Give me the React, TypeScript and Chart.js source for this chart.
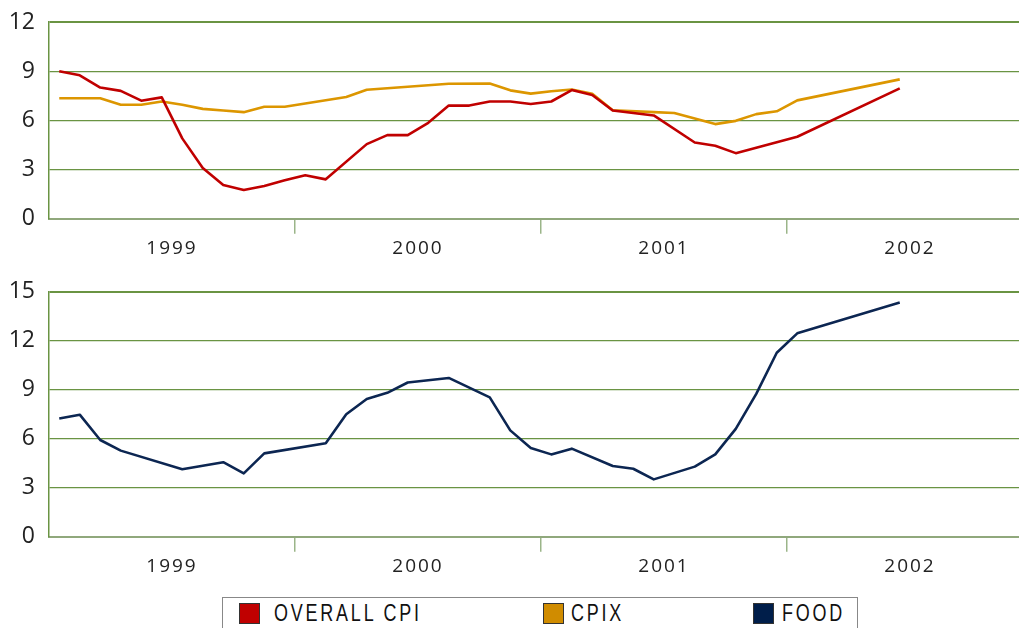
import React, { useEffect, useRef } from "react";
import { Chart, registerables } from "chart.js";

Chart.register(...registerables);

// ---- data (month index: 0 = Jan 1999) ----
const yearLabels = ["1999", "2000", "2001", "2002"];

const cpiMonths = [0, 1, 2, 3, 4, 5, 6, 7, 8, 9, 10, 11, 12, 13, 15, 16, 17, 18, 19, 20, 21, 22, 23, 24, 25, 26, 27, 29, 31, 32, 33, 36, 41];
const cpiValues = [9.0, 8.75, 8.0, 7.8, 7.2, 7.4, 4.9, 3.1, 2.05, 1.75, 2.0, 2.35, 2.65, 2.4, 4.55, 5.1, 5.1, 5.85, 6.9, 6.9, 7.15, 7.15, 7.0, 7.15, 7.85, 7.55, 6.6, 6.3, 4.65, 4.45, 4.0, 5.0, 7.95];

const cpixMonths = [0, 2, 3, 4, 5, 6, 7, 8, 9, 10, 11, 14, 15, 17, 19, 21, 22, 23, 24, 25, 26, 27, 29, 30, 32, 33, 34, 35, 36, 41];
const cpixValues = [7.35, 7.35, 6.95, 6.95, 7.15, 6.95, 6.7, 6.6, 6.5, 6.83, 6.83, 7.42, 7.87, 8.05, 8.23, 8.25, 7.83, 7.63, 7.78, 7.88, 7.62, 6.62, 6.5, 6.45, 5.77, 5.97, 6.38, 6.55, 7.22, 8.5];

const foodMonths = [0, 1, 2, 3, 6, 8, 9, 10, 13, 14, 15, 16, 17, 19, 21, 22, 23, 24, 25, 27, 28, 29, 31, 32, 33, 34, 35, 36, 41];
const foodValues = [7.24, 7.47, 5.92, 5.27, 4.13, 4.56, 3.88, 5.1, 5.72, 7.5, 8.43, 8.81, 9.44, 9.72, 8.53, 6.51, 5.43, 5.04, 5.39, 4.33, 4.16, 3.51, 4.29, 5.04, 6.6, 8.74, 11.26, 12.45, 14.34];

const topTicks = [0, 3, 6, 9, 12];
const bottomTicks = [0, 3, 6, 9, 12, 15];

// ---- styles ----
const RED = "#c00000";
const ORANGE = "#dc9600";
const NAVY = "#0c2652";
const GRID = "#6a9443";
const AXIS = "#90a87c";
const TICKMARK = "#9bb589";

const W = 1019;
const LEFT = 49;
const MONTH_PX = 20.5;
const XAXIS_H = 51.3;

const pts = (months: number[], vals: number[]) => months.map((m, i) => ({ x: m + 0.5, y: vals[i] }));

function makeOptions(yMax: number, ticks: number[], padTop: number): any {
  const xTicks: number[] = [];
  yearLabels.forEach((_, k) => {
    xTicks.push(k * 12 + 6);
    if (k > 0) xTicks.push(k * 12);
  });
  xTicks.sort((a, b) => a - b);
  return {
    animation: false,
    responsive: false,
    layout: { padding: { top: padTop, left: 0, right: 0, bottom: 0 } },
    plugins: { legend: { display: false }, tooltip: { enabled: false } },
    elements: { point: { radius: 0 }, line: { tension: 0, borderWidth: 2.6, borderCapStyle: "butt", borderJoinStyle: "round" } },
    scales: {
      x: {
        type: "linear",
        min: 0,
        max: (W - LEFT) / MONTH_PX,
        afterBuildTicks: (s: any) => {
          s.ticks = xTicks.map((v) => ({ value: v }));
        },
        afterFit: (s: any) => {
          s.height = XAXIS_H;
          if (!s.__ls) {
            s.__ls = true;
            const orig = s.drawLabels.bind(s);
            s.drawLabels = (ca: any) => {
              const c = s.ctx as any;
              const prev = c.letterSpacing;
              c.letterSpacing = "2px";
              orig(ca);
              c.letterSpacing = prev || "0px";
            };
          }
        },
        ticks: {
          autoSkip: false,
          maxRotation: 0,
          padding: 3,
          color: "#222",
          font: { family: "'Open Sans', 'DejaVu Sans', sans-serif", size: 19 },
          callback: (v: number) => (v % 12 === 6 ? yearLabels[Math.floor(v / 12)] : ""),
        },
        grid: {
          drawOnChartArea: false,
          drawTicks: true,
          tickLength: 15,
          lineWidth: 1.5,
          color: (ctx: any) => (ctx.tick && ctx.tick.value % 12 === 0 ? TICKMARK : "rgba(0,0,0,0)"),
        },
        border: { display: true, color: AXIS, width: 2 },
      },
      y: {
        min: 0,
        max: yMax,
        afterBuildTicks: (s: any) => {
          s.ticks = ticks.map((v) => ({ value: v }));
        },
        afterFit: (s: any) => {
          s.width = LEFT;
        },
        ticks: {
          padding: 0,
          color: "#222",
          font: { family: "'Open Sans', 'DejaVu Sans', sans-serif", size: 23 },
        },
        grid: {
          drawTicks: true,
          tickLength: 14,
          tickColor: "rgba(0,0,0,0)",
          color: (ctx: any) => (ctx.tick && ctx.tick.value === 0 ? "rgba(0,0,0,0)" : GRID),
          lineWidth: (ctx: any) => (ctx.tick && ctx.tick.value === yMax ? 2 : 1.3),
        },
        border: { display: true, color: GRID, width: 1.5 },
      },
    },
  };
}

function LineChart(props: { top: number; height: number; padTop: number; yMax: number; ticks: number[]; datasets: any[] }) {
  const ref = useRef<HTMLCanvasElement | null>(null);
  useEffect(() => {
    if (!ref.current) return;
    const chart = new Chart(ref.current, {
      type: "line",
      data: { datasets: props.datasets },
      options: makeOptions(props.yMax, props.ticks, props.padTop),
    });
    return () => chart.destroy();
  }, []);
  return (
    <canvas
      ref={ref}
      width={W}
      height={props.height}
      style={{ position: "absolute", left: 0, top: props.top, width: W, height: props.height }}
    />
  );
}

const legendFont = "'Liberation Sans', Arial, sans-serif";

function LegendItem(props: { left: number; color: string; label: string; textLeft: number }) {
  return (
    <>
      <div
        style={{
          position: "absolute",
          left: props.left - 222,
          top: 5,
          width: 21,
          height: 21,
          background: props.color,
          border: "1px solid #333",
          boxSizing: "border-box",
        }}
      />
      <div
        style={{
          position: "absolute",
          left: props.textLeft - 222,
          top: 1,
          fontFamily: legendFont,
          fontSize: 23,
          letterSpacing: "3.6px",
          color: "#111",
          lineHeight: "28px",
          whiteSpace: "nowrap",
          transform: "scaleX(0.78)",
          transformOrigin: "0 0",
        }}
      >
        {props.label}
      </div>
    </>
  );
}

export default function App() {
  const topSets = [
    { label: "OVERALL CPI", data: pts(cpiMonths, cpiValues), borderColor: RED, backgroundColor: RED },
    { label: "CPIX", data: pts(cpixMonths, cpixValues), borderColor: ORANGE, backgroundColor: ORANGE },
  ];
  const bottomSets = [{ label: "FOOD", data: pts(foodMonths, foodValues), borderColor: NAVY, backgroundColor: NAVY }];
  return (
    <div style={{ position: "fixed", left: 0, top: 0, width: W, height: 628, overflow: "hidden", background: "#fff" }}>
      <LineChart top={0} height={270} padTop={22} yMax={12} ticks={topTicks} datasets={topSets} />
      <LineChart top={270} height={318} padTop={21.7} yMax={15} ticks={bottomTicks} datasets={bottomSets} />
      <div
        style={{
          position: "absolute",
          left: 222,
          top: 597,
          width: 636,
          height: 50,
          border: "1px solid #888",
          boxSizing: "border-box",
        }}
      >
        <LegendItem left={238} color="#c00000" label="OVERALL CPI" textLeft={273} />
        <LegendItem left={542} color="#d08c00" label="CPIX" textLeft={570} />
        <LegendItem left={752} color="#001e4a" label="FOOD" textLeft={781} />
      </div>
    </div>
  );
}
